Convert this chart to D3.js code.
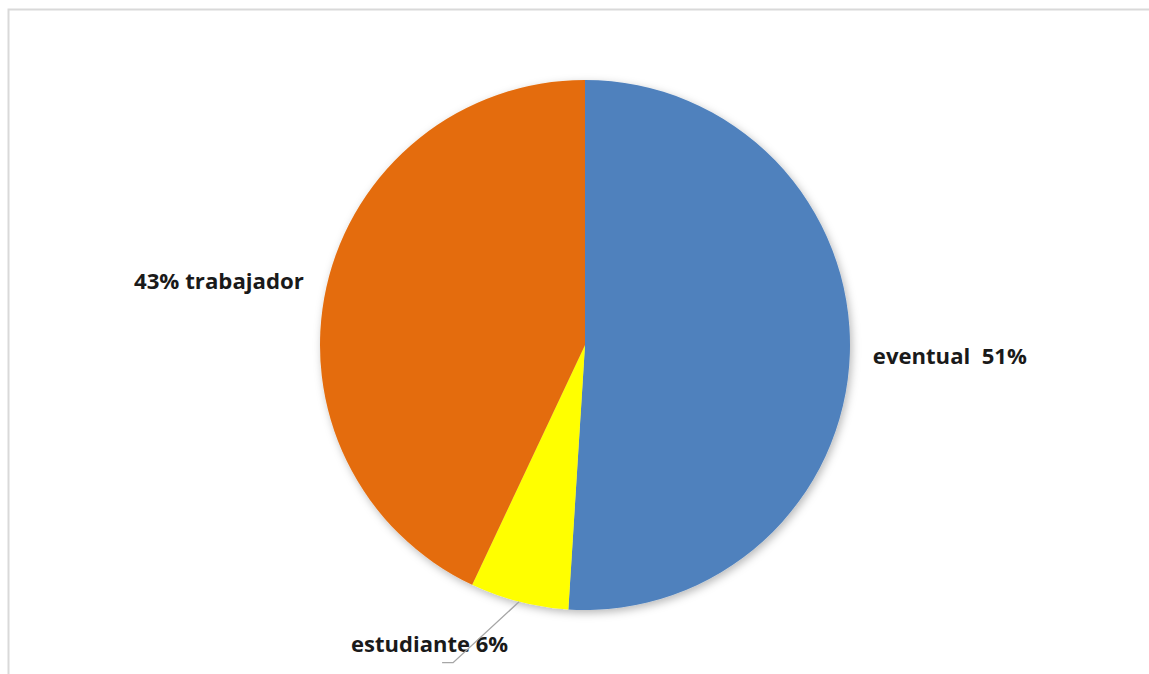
<!DOCTYPE html>
<html>
<head>
<meta charset="utf-8">
<script src="https://cdn.jsdelivr.net/npm/d3@7/dist/d3.min.js"></script>
<style>
  html, body { margin: 0; padding: 0; background: #fff; }
  svg { display: block; }
  text { white-space: pre; }
</style>
</head>
<body>
<svg id="chart" width="1149" height="674"></svg>
<script>
const categories = ["eventual", "estudiante", "trabajador"];
const values = [51, 6, 43];
const labels = ["eventual  51%", "estudiante 6%", "43% trabajador"];
const colors = ["#4f81bd", "#ffff00", "#e46c0a"];

const W = 1149, H = 674;
const svg = d3.select("#chart");

// chart area border
svg.append("rect")
  .attr("x", 8.5).attr("y", 9.5)
  .attr("width", W).attr("height", H)
  .attr("fill", "none")
  .attr("stroke", "#d9d9d9")
  .attr("stroke-width", 2);

const defs = svg.append("defs");
const f = defs.append("filter").attr("id", "shadow")
  .attr("x", "-10%").attr("y", "-10%").attr("width", "120%").attr("height", "120%");
f.append("feDropShadow").attr("dx", 2).attr("dy", 3).attr("stdDeviation", 4)
  .attr("flood-color", "#000").attr("flood-opacity", 0.28);

const cx = 585, cy = 345, r = 265;
const data = categories.map((c, i) => ({ cat: c, value: values[i], label: labels[i], color: colors[i] }));

const pie = d3.pie().value(d => d.value).sort(null);
const arcs = pie(data);
const arc = d3.arc().innerRadius(0).outerRadius(r);

const g = svg.append("g").attr("transform", `translate(${cx},${cy})`);
g.append("g").attr("filter", "url(#shadow)")
  .selectAll("path").data(arcs).enter().append("path")
  .attr("d", arc)
  .attr("fill", d => d.data.color);

function pt(angle, rad) {
  return [Math.sin(angle) * rad, -Math.cos(angle) * rad];
}

const lbl = g.append("g")
  .attr("font-family", "'Open Sans', 'Noto Sans', sans-serif")
  .attr("font-weight", "bold")
  .attr("font-size", 21)
  .attr("fill", "#1a1a1a");

arcs.forEach(a => {
  const mid = (a.startAngle + a.endAngle) / 2;
  const name = a.data.cat;
  if (name === "eventual") {
    const p = pt(mid, 288);
    lbl.append("text").attr("x", p[0]).attr("y", p[1] + 10)
      .attr("text-anchor", "start")
      .attr("textLength", 154).attr("lengthAdjust", "spacingAndGlyphs")
      .text(a.data.label);
  } else if (name === "trabajador") {
    const p = pt(mid, 288);
    lbl.append("text").attr("x", p[0]).attr("y", p[1] + 7)
      .attr("text-anchor", "end")
      .attr("textLength", 170).attr("lengthAdjust", "spacingAndGlyphs")
      .text(a.data.label);
  } else {
    const p0 = pt(mid, r);
    const p1 = [p0[0] - 66, p0[1] + 61];
    const p2 = [p1[0] - 11, p1[1]];
    g.append("polyline")
      .attr("points", [p0, p1, p2].map(p => p.join(",")).join(" "))
      .attr("fill", "none").attr("stroke", "#a6a6a6").attr("stroke-width", 1.4);
    lbl.append("text").attr("x", p1[0] - 102).attr("y", p1[1] - 11)
      .attr("text-anchor", "start")
      .attr("textLength", 157).attr("lengthAdjust", "spacingAndGlyphs")
      .text(a.data.label);
  }
});
</script>
</body>
</html>
